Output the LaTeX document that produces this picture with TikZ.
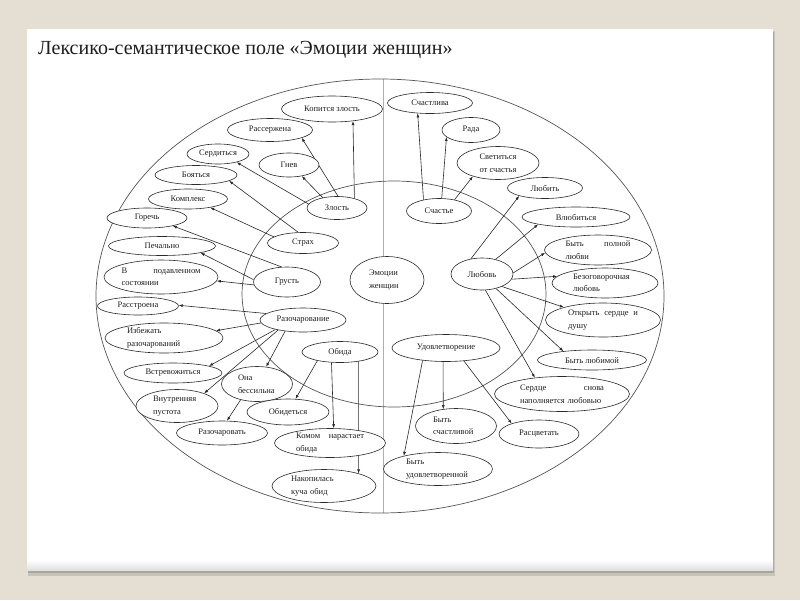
\documentclass[tikz,border=0pt]{standalone}
\usepackage{fontspec}
\setmainfont{Liberation Serif}
\usetikzlibrary{shapes.geometric,arrows.meta}
\definecolor{bgbeige}{HTML}{E4DED3}
\definecolor{shadowc}{HTML}{AAA69D}
\definecolor{linec}{HTML}{2A2A2A}
\definecolor{ringc}{HTML}{555555}
\definecolor{axisc}{HTML}{B0B0B0}
\definecolor{txtc}{HTML}{1E1E1E}
\pgfdeclarelayer{back}
\pgfdeclarelayer{edges}
\pgfsetlayers{back,edges,main}
\tikzset{
  en/.style={ellipse, draw=linec, line width=0.6pt, fill=white, inner sep=0pt,
    text=txtc, font=\fontsize{8.5}{12.5}\selectfont},
  sz/.style 2 args={minimum width=#1pt, minimum height=#2pt},
  arr/.style={draw=linec, line width=0.6pt, -{Latex[length=4pt,width=3pt]}},
  ring/.style={draw=ringc, line width=0.7pt},
}
\begin{document}
\begin{tikzpicture}[x=1pt,y=-1pt]
\begin{pgfonlayer}{back}
  \fill[bgbeige] (0,0) rectangle (800,600);
  \useasboundingbox (0,0) rectangle (800,600);
  \fill[shadowc, opacity=0.45] (28,31) rectangle (775,576);
  \fill[shadowc] (28,32) rectangle (774,573);
  \fill[white] (27,29) rectangle (773,570);
  \shade[top color=white, bottom color=black!12] (27,560) rectangle (773,570);
  \draw[axisc, line width=0.5pt] (383,79) -- (383,513);
  \draw[ring] (380,296) ellipse [x radius=284, y radius=217];
  \draw[ring] (394,294) ellipse [x radius=152, y radius=113];
\end{pgfonlayer}

\node[anchor=base west, text=txtc, font=\fontsize{20}{24}\selectfont, inner sep=0pt] (title) at (38,54) {Лексико-семантическое поле «Эмоции женщин»};

% left half
\node[en, sz={101}{26}] (kz) at (332,109) {Копится злость};
\node[en, sz={85}{23}] (rs) at (270,130) {Рассержена};
\node[en, sz={62}{20}] (sd) at (218,154) {Сердиться};
\node[en, sz={60}{24}] (gn) at (289,165) {Гнев};
\node[en, sz={82}{19}] (bo) at (196,175) {Бояться};
\node[en, sz={79}{20}] (km) at (188,199) {Комплекс};
\node[en, sz={60}{23}] (zl) at (337,208) {Злость};
\node[en, sz={80}{20}] (gr) at (147,218) {Горечь};
\node[en, sz={107}{19}] (pe) at (162,246) {Печально};
\node[en, sz={71}{21}] (st) at (303,243) {Страх};
\node[en, sz={114}{34}, text width=79pt, align=left] (vp) at (161,277) {В\hfill подавленном\\состоянии};
\node[en, sz={67}{30}] (gu) at (287,282) {Грусть};
\node[en, sz={81}{18}] (ra) at (138,306) {Расстроена};
\node[en, sz={86}{24}] (rz) at (303,320) {Разочарование};
\node[en, sz={118}{30}, text width=74pt, align=left] (iz) at (164,338) {Избежать\\разочарований};
\node[en, sz={74}{47}, text width=36pt, align=left] (em) at (387,280) {Эмоции\\женщин};
\node[en, sz={76}{21}] (ob) at (340,352) {Обида};
\node[en, sz={98}{20}] (vs) at (173,373) {Встревожиться};
\node[en, sz={71}{35}, text width=38pt, align=left] (ob2) at (257,384) {Она\\бессильна};
\node[en, sz={82}{33}, text width=48pt, align=left] (vn) at (177,406) {Внутренняя\\пустота};
\node[en, sz={82}{26}] (od) at (288,412) {Обидеться};
\node[en, sz={91}{24}] (rv) at (222,433) {Разочаровать};
\node[en, sz={111}{29}, text width=68pt, align=left] (kn) at (330,443) {Комом\hfill нарастает\\обида};
\node[en, sz={104}{33}, text width=66pt, align=left] (nk) at (324,486) {Накопилась\\куча обид};

% right half
\node[en, sz={85}{21}] (sc) at (430,103) {Счастлива};
\node[en, sz={58}{25}] (ra2) at (471,130) {Рада};
\node[en, sz={82}{33}, align=center] (sv) at (498,163) {Светиться\\от счастья};
\node[en, sz={75}{21}] (lb) at (545,188) {Любить};
\node[en, sz={65}{25}] (ss) at (439,211) {Счастье};
\node[en, sz={108}{20}] (vl) at (576,217) {Влюбиться};
\node[en, sz={62}{32}] (lv) at (482,274) {Любовь};
\node[en, sz={107}{30}, text width=65pt, align=left] (bp) at (598,250) {Быть\hfill полной\\любви};
\node[en, sz={106}{30}, text width=64pt, align=left] (bz) at (605,283) {Безоговорочная\\любовь};
\node[en, sz={115}{34}, text width=70pt, align=left] (ot) at (603,320) {Открыть\hfill сердце\hfill и\\душу};
\node[en, sz={109}{20}] (bl) at (592,360) {Быть любимой};
\node[en, sz={108}{27}] (ud) at (446,348) {Удовлетворение};
\node[en, sz={135}{35}, text width=84pt, align=left] (sn) at (562,394) {Сердце\hfill снова\\наполняется любовью};
\node[en, sz={81}{35}, text width=46pt, align=left] (bs) at (456,426) {Быть\\счастливой};
\node[en, sz={80}{28}] (rc) at (539,434) {Расцветать};
\node[en, sz={109}{33}, text width=64pt, align=left] (bu) at (438,469) {Быть\\удовлетворенной};

\begin{pgfonlayer}{edges}
  \draw[arr] (zl.29) -- (kz.-30);
  \draw[arr] (zl.85) -- (rs.-14);
  \draw[arr] (zl.144) -- (gn.-41);
  \draw[arr] (zl.172) -- (sd.-24);
  \draw[arr] (st.114) -- (bo.-10);
  \draw[arr] (st.168) -- (km.-21);
  \draw[arr] (gu.110) -- (gr.-17);
  \draw[arr] (gu.176) -- (pe.-10);
  \draw[arr] (gu.185) -- (vp.-4);
  \draw[arr] (rz.170) -- (ra.1);
  \draw[arr] (rz.184) -- (iz.8);
  \draw[arr] (rz.199) -- (vs.11);
  \draw[arr] (rz.202) -- (vn.25);
  \draw[arr] (rz.212) -- (ob2.62);
  \draw[arr] (ob2.224) -- (rv.68);
  \draw[arr] (ob.201) -- (od.60);
  \draw[arr] (ob.231) -- (kn.76);
  \draw[arr] (ob.-27.2) -- (nk.20.2);
  \draw[arr] (ss.144) -- (sc.220);
  \draw[arr] (ss.78) -- (ra2.196);
  \draw[arr] (ss.36) -- (sv.208);
  \draw[arr] (lv.126) -- (lb.197);
  \draw[arr] (lv.47) -- (vl.191);
  \draw[arr] (lv.2) -- (bp.183);
  \draw[arr] (lv.-10) -- (bz.172);
  \draw[arr] (lv.-32) -- (ot.162);
  \draw[arr] (lv.-46) -- (bl.163);
  \draw[arr] (lv.-78) -- (sn.149);
  \draw[arr] (ud.258) -- (bs.127);
  \draw[arr] (ud.-36) -- (rc.159);
  \draw[arr] (ud.208) -- (bu.159);
\end{pgfonlayer}
\end{tikzpicture}
\end{document}
